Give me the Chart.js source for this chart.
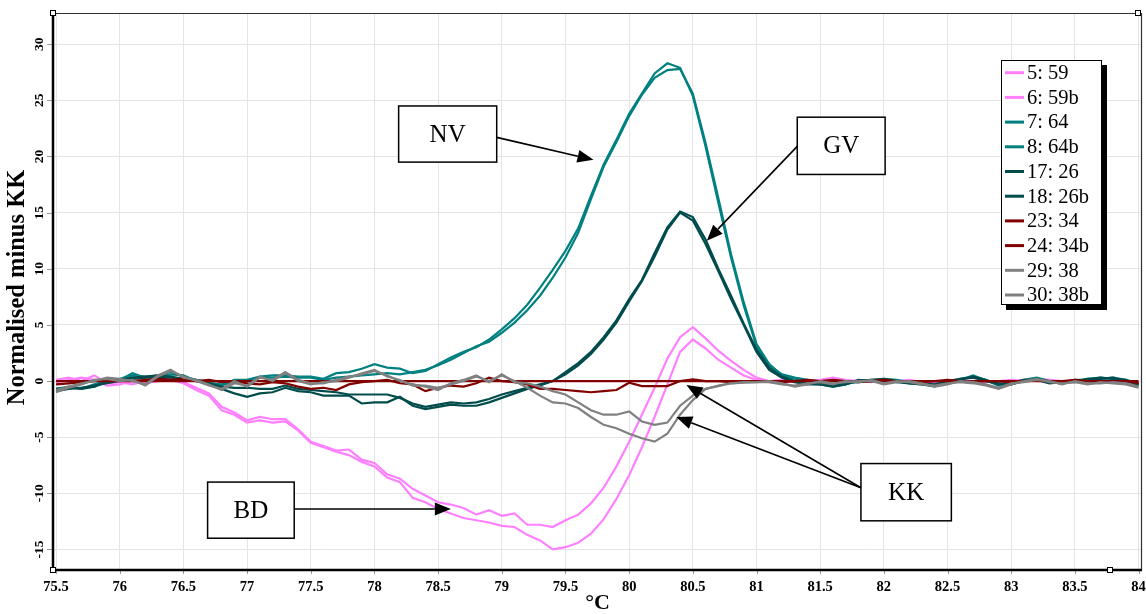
<!DOCTYPE html>
<html>
<head>
<meta charset="utf-8">
<title>Normalised minus KK</title>
<script src="https://cdn.jsdelivr.net/npm/chart.js@4.4.1/dist/chart.umd.min.js"></script>
<style>
  html, body { margin: 0; padding: 0; background: #fff; }
</style>
</head>
<body>
<canvas id="chartMelt" width="1146" height="614"></canvas>
<script>
/* ── data ── */
const temps = [
  75.5, 75.6, 75.7, 75.8, 75.9, 76.0, 76.1, 76.2, 76.3, 76.4,
  76.5, 76.6, 76.7, 76.8, 76.9, 77.0, 77.1, 77.2, 77.3, 77.4,
  77.5, 77.6, 77.7, 77.8, 77.9, 78.0, 78.1, 78.2, 78.3, 78.4,
  78.5, 78.6, 78.7, 78.8, 78.9, 79.0, 79.1, 79.2, 79.3, 79.4,
  79.5, 79.6, 79.7, 79.8, 79.9, 80.0, 80.1, 80.2, 80.3, 80.4,
  80.5, 80.6, 80.7, 80.8, 80.9, 81.0, 81.1, 81.2, 81.3, 81.4,
  81.5, 81.6, 81.7, 81.8, 81.9, 82.0, 82.1, 82.2, 82.3, 82.4,
  82.5, 82.6, 82.7, 82.8, 82.9, 83.0, 83.1, 83.2, 83.3, 83.4,
  83.5, 83.6, 83.7, 83.8, 83.9, 84.0
];

const xTicks = [75.5, 76, 76.5, 77, 77.5, 78, 78.5, 79, 79.5, 80, 80.5, 81, 81.5, 82, 82.5, 83, 83.5, 84];
const yTicks = [-15, -10, -5, 0, 5, 10, 15, 20, 25, 30];

const seriesNames  = ['5: 59', '6: 59b', '7: 64', '8: 64b', '17: 26', '18: 26b', '23: 34', '24: 34b', '29: 38', '30: 38b'];
const seriesColors = ['#ff80ff', '#ff80ff', '#008080', '#008080', '#004c4c', '#004c4c', '#800000', '#800000', '#808080', '#808080'];

const s59 = [
  0.1, 0.3, 0.0, 0.5, -0.2, -0.1, -0.3, 0.0, 0.1, 0.2,
  -0.1, -0.6, -1.1, -2.3, -2.8, -3.5, -3.2, -3.4, -3.4, -4.3,
  -5.4, -5.8, -6.2, -6.1, -7.0, -7.3, -8.3, -8.7, -9.6, -10.2,
  -10.8, -11.0, -11.3, -11.9, -11.5, -12.0, -11.8, -12.8, -12.8, -13.0,
  -12.4, -11.9, -10.9, -9.5, -7.6, -5.4, -3.0, -0.6, 2.0, 3.9,
  4.8, 3.8, 2.7, 1.8, 1.0, 0.3, 0.0, 0.1, -0.1, 0.0,
  0.1, 0.3, 0.1, 0.0, -0.1, 0.1, 0.0, 0.1, -0.1, -0.2,
  0.0, 0.1, 0.0, -0.1, 0.0, 0.1, 0.0, 0.2, 0.1, 0.0,
  0.0, 0.1, 0.0, -0.1, 0.0, -0.2
];
const s59b = [
  -0.1, 0.1, 0.3, 0.1, -0.4, -0.3, 0.0, -0.2, 0.0, 0.1,
  -0.2, -0.8, -1.3, -2.6, -3.0, -3.7, -3.5, -3.7, -3.6, -4.4,
  -5.5, -5.9, -6.3, -6.6, -7.2, -7.6, -8.6, -9.0, -10.4, -10.8,
  -11.4, -11.8, -12.2, -12.4, -12.6, -12.9, -13.0, -13.7, -14.2, -15.0,
  -14.8, -14.4, -13.6, -12.3, -10.5, -8.4, -5.9, -3.2, -0.3, 2.6,
  3.7, 2.9, 1.9, 1.2, 0.5, 0.1, -0.1, -0.2, 0.0, 0.1,
  0.0, 0.2, 0.0, -0.1, 0.0, 0.0, -0.1, 0.0, 0.0, -0.1,
  0.1, 0.0, -0.1, 0.0, -0.2, 0.0, 0.1, 0.1, 0.0, -0.1,
  0.1, 0.0, -0.1, 0.0, -0.1, -0.1
];
const s64 = [
  -0.8, -0.6, -0.6, -0.5, -0.1, 0.1, 0.7, 0.3, 0.5, 0.8,
  0.4, 0.1, -0.1, -0.4, 0.1, 0.1, 0.4, 0.5, 0.5, 0.4,
  0.4, 0.2, 0.7, 0.8, 1.1, 1.5, 1.2, 1.1, 0.7, 0.9,
  1.5, 2.1, 2.6, 3.0, 3.7, 4.6, 5.6, 6.8, 8.3, 9.9,
  11.6, 13.6, 16.5, 19.3, 21.5, 23.8, 25.6, 27.4, 28.3, 27.9,
  25.4, 20.9, 15.9, 11.0, 6.7, 3.1, 1.4, 0.6, 0.3, 0.1,
  -0.2, -0.4, -0.2, -0.1, 0.0, 0.2, 0.1, -0.1, -0.2, -0.4,
  -0.1, 0.2, 0.4, 0.0, -0.3, -0.2, 0.1, 0.3, 0.0, -0.1,
  0.0, 0.2, 0.3, 0.2, 0.0, -0.3
];
const s64b = [
  -0.7, -0.5, -0.7, -0.3, 0.0, 0.2, 0.5, 0.4, 0.4, 0.6,
  0.5, 0.0, -0.2, -0.3, -0.1, 0.0, 0.3, 0.3, 0.4, 0.3,
  0.3, 0.1, 0.3, 0.4, 0.5, 0.6, 0.7, 0.6, 0.8, 1.0,
  1.4, 1.9, 2.5, 3.1, 3.5, 4.3, 5.2, 6.3, 7.6, 9.2,
  11.0, 13.2, 16.2, 19.1, 21.3, 23.6, 25.5, 27.0, 27.7, 27.8,
  25.6, 21.2, 16.3, 11.3, 7.0, 3.3, 1.5, 0.5, 0.2, 0.0,
  -0.3, -0.5, -0.3, 0.0, 0.1, 0.1, 0.0, -0.2, -0.3, -0.5,
  0.0, 0.1, 0.5, 0.1, -0.4, -0.3, 0.0, 0.2, -0.1, -0.2,
  0.1, 0.1, 0.2, 0.3, 0.1, -0.2
];
const s26 = [
  -0.9, -0.7, -0.6, -0.4, -0.2, 0.0, 0.2, 0.3, 0.3, 0.3,
  0.2, 0.1, -0.3, -0.7, -1.1, -1.4, -1.1, -1.0, -0.6, -0.9,
  -1.0, -1.3, -1.3, -1.3, -2.0, -1.9, -1.9, -1.4, -2.2, -2.5,
  -2.3, -2.1, -2.2, -2.2, -1.9, -1.5, -1.1, -0.7, -0.4, 0.0,
  0.8, 1.6, 2.6, 3.9, 5.4, 7.3, 9.0, 11.4, 13.7, 15.1,
  14.6, 12.6, 10.0, 7.6, 5.1, 2.8, 1.2, 0.4, 0.0, -0.2,
  -0.3, -0.4, -0.2, 0.0, 0.1, 0.2, 0.0, -0.1, -0.2, -0.3,
  0.0, 0.2, 0.3, 0.0, -0.2, -0.3, 0.0, 0.2, -0.1, -0.2,
  0.0, 0.1, 0.3, 0.2, 0.1, -0.4
];
const s26b = [
  -0.7, -0.6, -0.7, -0.5, 0.0, 0.1, 0.3, 0.4, 0.5, 0.4,
  0.2, 0.0, -0.2, -0.5, -0.6, -0.6, -0.7, -0.7, -0.4, -0.7,
  -0.8, -0.9, -1.0, -1.2, -1.2, -1.2, -1.2, -1.5, -2.0, -2.3,
  -2.1, -1.9, -2.0, -1.9, -1.6, -1.2, -0.9, -0.6, -0.3, 0.0,
  0.6, 1.4, 2.4, 3.7, 5.2, 7.1, 8.9, 11.1, 13.5, 15.0,
  14.3, 12.2, 9.8, 7.3, 5.0, 2.6, 1.0, 0.3, -0.1, -0.3,
  -0.3, -0.5, -0.3, 0.1, 0.0, 0.1, -0.1, -0.2, -0.3, -0.4,
  -0.1, 0.1, 0.4, 0.1, -0.3, -0.2, 0.1, 0.1, -0.2, -0.1,
  -0.1, 0.2, 0.2, 0.3, 0.0, -0.3
];
const s34 = [
  0, 0, 0, 0, 0, 0, 0, 0, 0, 0,
  0, 0, 0, 0, 0, 0, 0, 0, 0, 0,
  0, 0, 0, 0, 0, 0, 0, 0, 0, 0,
  0, 0, 0, 0, 0, 0, 0, 0, 0, 0,
  0, 0, 0, 0, 0, 0, 0, 0, 0, 0,
  0, 0, 0, 0, 0, 0, 0, 0, 0, 0,
  0, 0, 0, 0, 0, 0, 0, 0, 0, 0,
  0, 0, 0, 0, 0, 0, 0, 0, 0, 0,
  0, 0, 0, 0, 0, 0
];
const s34b = [
  -0.3, -0.2, -0.1, 0.0, 0.1, 0.1, 0.0, 0.1, 0.2, 0.1,
  0.2, 0.0, 0.1, -0.1, 0.0, -0.2, -0.3, -0.1, -0.2, -0.5,
  -0.7, -0.6, -0.8, -0.3, -0.1, 0.0, 0.1, -0.2, -0.3, -0.9,
  -0.6, -0.4, -0.5, -0.2, 0.3, 0.0, -0.1, -0.3, -0.7, -0.7,
  -0.8, -0.9, -1.0, -0.9, -0.8, -0.15, -0.45, -0.45, -0.45, 0.0,
  0.15, 0.0, 0.0, -0.1, 0.0, 0.0, 0.0, -0.1, 0.0, 0.1,
  0.0, 0.1, 0.0, -0.1, 0.0, 0.1, 0.0, 0.0, -0.1, 0.0,
  0.1, 0.0, -0.1, 0.0, 0.0, -0.1, 0.0, 0.1, 0.0, 0.0,
  0.1, 0.0, -0.1, 0.0, 0.0, -0.2
];
const s38 = [
  -1.0, -0.6, -0.3, 0.1, 0.2, 0.0, 0.1, -0.4, 0.4, 0.9,
  0.4, 0.0, -0.4, -0.7, 0.0, -0.5, 0.3, 0.1, 0.8, 0.1,
  -0.2, -0.2, 0.1, 0.4, 0.6, 0.9, 0.5, 0.0, -0.3, -0.5,
  -0.8, -0.2, 0.1, 0.5, -0.1, 0.6, -0.1, -0.2, -0.5, -0.9,
  -1.2, -1.9, -2.6, -3.0, -3.0, -2.7, -3.6, -3.9, -3.7, -2.2,
  -1.3, -0.7, -0.45, -0.2, -0.15, -0.1, -0.1, -0.3, -0.4, -0.2,
  -0.1, -0.3, 0.0, -0.1, 0.1, -0.2, 0.0, -0.1, -0.3, -0.4,
  -0.2, -0.1, -0.2, -0.4, -0.7, -0.3, 0.0, 0.2, -0.1, -0.2,
  -0.1, -0.3, -0.1, -0.2, -0.3, -0.6
];
const s38b = [
  -0.8, -0.5, -0.2, 0.0, 0.3, 0.2, 0.0, -0.3, 0.5, 1.0,
  0.3, 0.1, -0.3, -0.8, -0.2, -0.4, 0.4, 0.0, 0.7, 0.0,
  -0.3, -0.1, 0.0, 0.3, 0.7, 1.0, 0.4, 0.1, -0.4, -0.4,
  -0.6, -0.3, 0.0, 0.4, 0.0, 0.5, 0.0, -0.6, -1.3, -1.9,
  -2.0, -2.4, -3.2, -3.9, -4.2, -4.7, -5.1, -5.4, -4.7, -3.0,
  -1.7, -0.7, -0.4, -0.2, -0.1, -0.1, 0.0, -0.2, -0.5, -0.3,
  0.0, -0.2, -0.1, 0.0, 0.0, -0.3, -0.1, 0.0, -0.2, -0.5,
  -0.3, 0.0, -0.1, -0.3, -0.6, -0.2, -0.1, 0.1, 0.0, -0.3,
  0.0, -0.2, -0.2, -0.1, -0.2, -0.5
];

const seriesValues = [s59, s59b, s64, s64b, s26, s26b, s34, s34b, s38, s38b];

/* callout boxes: box = [xFrom, xTo, yTop, yBottom], arrows = [x0, y0, x1(tip), y1(tip)] in data units */
const notes = [
  { text: 'NV', box: [78.19, 78.96, 24.5, 19.5],   arrows: [[78.96, 21.7, 79.72, 19.7]] },
  { text: 'GV', box: [81.32, 82.01, 23.5, 18.4],   arrows: [[81.32, 20.9, 80.61, 12.5]] },
  { text: 'BD', box: [76.69, 77.37, -9.0, -14.0],  arrows: [[77.37, -11.4, 78.6, -11.4]] },
  { text: 'KK', box: [81.82, 82.53, -7.35, -12.45], arrows: [[81.82, -9.5, 80.45, -0.36], [81.82, -9.5, 80.37, -3.2]] },
];

const SERIF = "'Liberation Serif', 'Times New Roman', serif";

function arrow(ctx, x0, y0, x1, y1) {
  const ang = Math.atan2(y1 - y0, x1 - x0), len = 16, half = 6.5;
  const bx = x1 - len * Math.cos(ang), by = y1 - len * Math.sin(ang);
  ctx.beginPath(); ctx.moveTo(x0, y0); ctx.lineTo(bx, by); ctx.stroke();
  ctx.beginPath();
  ctx.moveTo(x1, y1);
  ctx.lineTo(bx + half * Math.sin(ang), by - half * Math.cos(ang));
  ctx.lineTo(bx - half * Math.sin(ang), by + half * Math.cos(ang));
  ctx.closePath(); ctx.fill();
}

function handle(ctx, px, py) {
  ctx.fillStyle = '#fff';
  ctx.strokeStyle = '#000';
  ctx.lineWidth = 1;
  ctx.fillRect(px - 3, py - 3, 6, 6);
  ctx.strokeRect(px - 2.5, py - 2.5, 5, 5);
}

/* frame, tick labels, titles, callouts, legend */
const overlay = {
  id: 'overlay',
  afterDraw(chart) {
    const { ctx, chartArea: a, scales: { x, y } } = chart;
    ctx.save();

    // thin top/right border, heavy left/bottom axes
    ctx.strokeStyle = '#333';
    ctx.lineWidth = 1.2;
    ctx.beginPath();
    ctx.moveTo(a.left, a.top + 0.5);
    ctx.lineTo(a.right - 0.5, a.top + 0.5);
    ctx.lineTo(a.right - 0.5, a.bottom);
    ctx.stroke();

    // tick marks
    ctx.strokeStyle = '#999';
    ctx.lineWidth = 1;
    yTicks.forEach(v => {
      const py = Math.round(y.getPixelForValue(v)) + 0.5;
      ctx.beginPath(); ctx.moveTo(a.left - 6, py); ctx.lineTo(a.left, py); ctx.stroke();
    });
    xTicks.forEach(v => {
      const px = Math.round(x.getPixelForValue(v)) + 0.5;
      ctx.beginPath(); ctx.moveTo(px, a.bottom); ctx.lineTo(px, a.bottom + 4); ctx.stroke();
    });

    ctx.strokeStyle = '#000';
    ctx.lineWidth = 2.5;
    ctx.beginPath();
    ctx.moveTo(a.left, a.top);
    ctx.lineTo(a.left, a.bottom);
    ctx.lineTo(a.right, a.bottom);
    ctx.stroke();

    handle(ctx, a.left, a.top);
    handle(ctx, a.left, a.bottom);
    handle(ctx, a.right - 4, a.top);
    handle(ctx, a.right - 32, a.bottom);

    // tick labels
    ctx.fillStyle = '#000';
    ctx.textAlign = 'center';
    ctx.textBaseline = 'middle';
    ctx.font = 'bold 14.5px ' + SERIF;
    xTicks.forEach(v => ctx.fillText(String(v), x.getPixelForValue(v), 587));

    ctx.font = 'bold 13.5px ' + SERIF;
    yTicks.forEach(v => {
      ctx.save();
      ctx.translate(40, y.getPixelForValue(v));
      ctx.rotate(-Math.PI / 2);
      ctx.fillText(String(v), 0, 0);
      ctx.restore();
    });

    // axis titles
    ctx.font = 'bold 24.5px ' + SERIF;
    ctx.save();
    ctx.translate(18, (a.top + a.bottom) / 2 - 4);
    ctx.rotate(-Math.PI / 2);
    ctx.fillText('Normalised minus KK', 0, 0);
    ctx.restore();
    ctx.font = 'bold 22px ' + SERIF;
    ctx.fillText('°C', (a.left + a.right) / 2, 603);

    // callouts
    notes.forEach(n => {
      const x0 = x.getPixelForValue(n.box[0]), x1 = x.getPixelForValue(n.box[1]);
      const y0 = y.getPixelForValue(n.box[2]), y1 = y.getPixelForValue(n.box[3]);
      ctx.fillStyle = '#fff';
      ctx.fillRect(x0, y0, x1 - x0, y1 - y0);
      ctx.strokeStyle = '#000';
      ctx.lineWidth = 1.5;
      ctx.strokeRect(x0, y0, x1 - x0, y1 - y0);
      ctx.fillStyle = '#000';
      ctx.font = '25px ' + SERIF;
      ctx.fillText(n.text, (x0 + x1) / 2, (y0 + y1) / 2 + 1);
      ctx.lineWidth = 1.6;
      n.arrows.forEach(r => arrow(ctx,
        x.getPixelForValue(r[0]), y.getPixelForValue(r[1]),
        x.getPixelForValue(r[2]), y.getPixelForValue(r[3])));
    });

    // legend box with drop shadow
    const lx = 1001, ly = 60, lw = 101, lh = 245;
    ctx.fillStyle = '#000';
    ctx.fillRect(lx + 5, ly + 5, lw, lh);
    ctx.fillStyle = '#fff';
    ctx.fillRect(lx, ly, lw, lh);
    ctx.strokeStyle = '#000';
    ctx.lineWidth = 1;
    ctx.strokeRect(lx + 0.5, ly + 0.5, lw - 1, lh - 1);
    ctx.textAlign = 'left';
    ctx.font = '20.5px ' + SERIF;
    seriesNames.forEach((name, i) => {
      const ry = 72.7 + i * 24.7;
      ctx.strokeStyle = seriesColors[i];
      ctx.lineWidth = 3;
      ctx.beginPath(); ctx.moveTo(1005, ry); ctx.lineTo(1024, ry); ctx.stroke();
      ctx.fillStyle = '#000';
      ctx.fillText(name, 1027, ry + 1);
    });

    ctx.restore();
  }
};

Chart.defaults.font.family = SERIF;

new Chart(document.getElementById('chartMelt'), {
  type: 'line',
  data: {
    datasets: seriesValues.map((vals, i) => ({
      label: seriesNames[i],
      data: temps.map((t, k) => ({ x: t, y: vals[k] })),
      borderColor: seriesColors[i],
      backgroundColor: seriesColors[i],
      borderWidth: 2.2,
      pointRadius: 0,
      tension: 0,
      fill: false,
      order: seriesValues.length - 1 - i,
    })),
  },
  options: {
    responsive: false,
    animation: false,
    devicePixelRatio: 1,
    layout: { padding: { left: 53, right: 4, top: 13, bottom: 44 } },
    plugins: { legend: { display: false }, tooltip: { enabled: false } },
    scales: {
      x: {
        type: 'linear',
        min: 75.476,
        max: 84.027,
        afterBuildTicks: s => { s.ticks = xTicks.map(v => ({ value: v })); },
        grid: { color: '#e4e4e4', drawTicks: false },
        border: { display: false },
        ticks: { display: false },
      },
      y: {
        type: 'linear',
        min: -16.83,
        max: 32.78,
        afterBuildTicks: s => { s.ticks = yTicks.map(v => ({ value: v })); },
        grid: { color: '#e4e4e4', drawTicks: false },
        border: { display: false },
        ticks: { display: false },
      },
    },
  },
  plugins: [overlay],
});
</script>
</body>
</html>
